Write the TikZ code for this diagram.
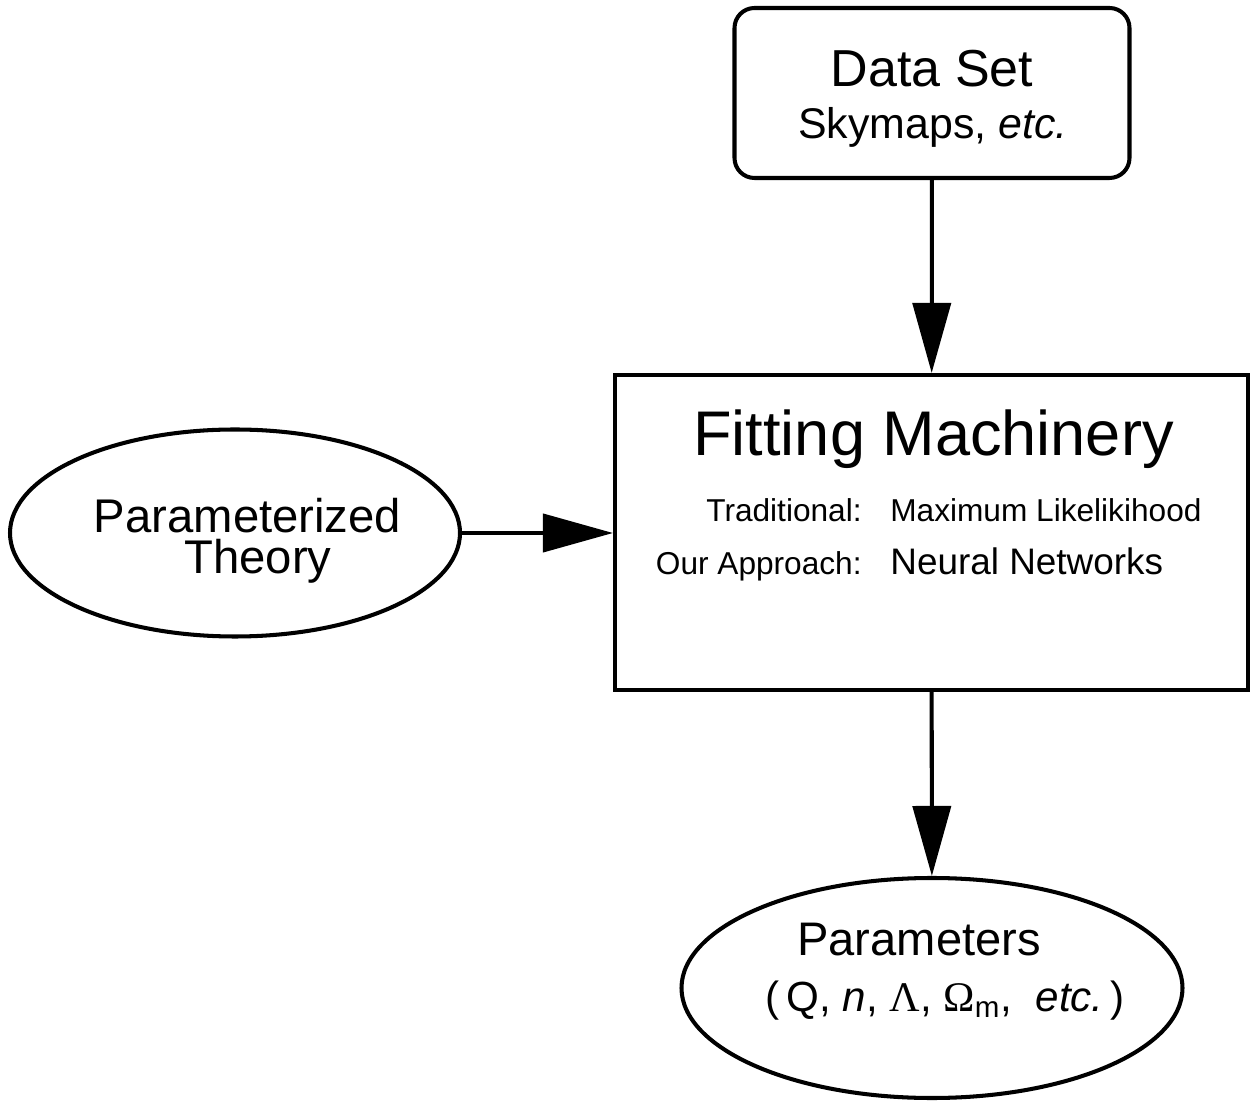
\documentclass[tikz,border=0pt]{standalone}
\usepackage{fontspec}
\setmainfont{Liberation Sans}
\newfontfamily\greekfont{Liberation Serif}
\usepackage{tikz}
\usetikzlibrary{shapes,arrows,positioning,calc,arrows.meta}

\tikzset{
    flowline/.style={line width=2.3pt, -{Triangle[length=1.4cm,width=0.76cm]}},
    databox/.style={draw, line width=2.3pt, rounded corners=0.4cm, minimum width=7.9cm, minimum height=3.4cm},
    fitbox/.style={draw, line width=2.3pt, minimum width=12.66cm, minimum height=6.3cm},
    blob/.style={draw, ellipse, line width=2.3pt},
    txt/.style={inner sep=0pt, anchor=base}
}

\begin{document}
\begin{tikzpicture}
    \useasboundingbox (0,0) rectangle (25,22.02);
    % boxes and ellipses
    \node[databox] (data) at (18.64,20.16) {};
    \node[fitbox] (fit) at (18.63,11.37) {};
    \node[blob, minimum width=9cm, minimum height=4.14cm] (theory) at (4.7,11.36) {};
    \node[blob, minimum width=10.02cm, minimum height=4.4cm] (params) at (18.64,2.26) {};
    % texts
    \node[txt] (dataname) at (18.64,20.28) {\fontsize{29.6}{32}\selectfont Data Set};
    \node[txt] (datasub) at (18.66,19.24) {\fontsize{24.4}{28}\selectfont Skymaps, \textit{etc.}};
    \node[txt] (theory1) at (4.95,11.36) {\fontsize{26.9}{30}\selectfont Parameterized};
    \node[txt] (theory2) at (5.16,10.54) {\fontsize{26.9}{30}\selectfont Theory};
    \node[txt] (paramname) at (18.38,2.92) {\fontsize{26.8}{30}\selectfont Parameters};
    \node[txt] (paramlist) at (18.9,1.80) {\fontsize{24}{28}\selectfont (\,Q, \textit{n}, {\greekfont Λ}, {\greekfont Ω}\textsubscript{m}, \ \textit{etc.}\,)};
    % inside the fitting box
    \node[txt] (title) at (18.67,12.9) {\fontsize{35.9}{40}\selectfont Fitting Machinery};
    \node[txt, anchor=base east] (trad) at (17.24,11.58) {\fontsize{18}{20}\selectfont Traditional:};
    \node[txt, anchor=base west] (ml) at (17.8,11.58) {\fontsize{18}{20}\selectfont Maximum Likelikihood};
    \node[txt, anchor=base east] (ours) at (17.24,10.52) {\fontsize{18}{20}\selectfont Our Approach:};
    \node[txt, anchor=base west] (nn) at (17.8,10.52) {\fontsize{21}{23}\selectfont Neural Networks};
    % arrows
    \draw[flowline] (data) -- (fit);
    \draw[flowline] (theory) -- (fit.west |- theory.east);
    \draw[flowline] (fit) -- (params);
\end{tikzpicture}
\end{document}
